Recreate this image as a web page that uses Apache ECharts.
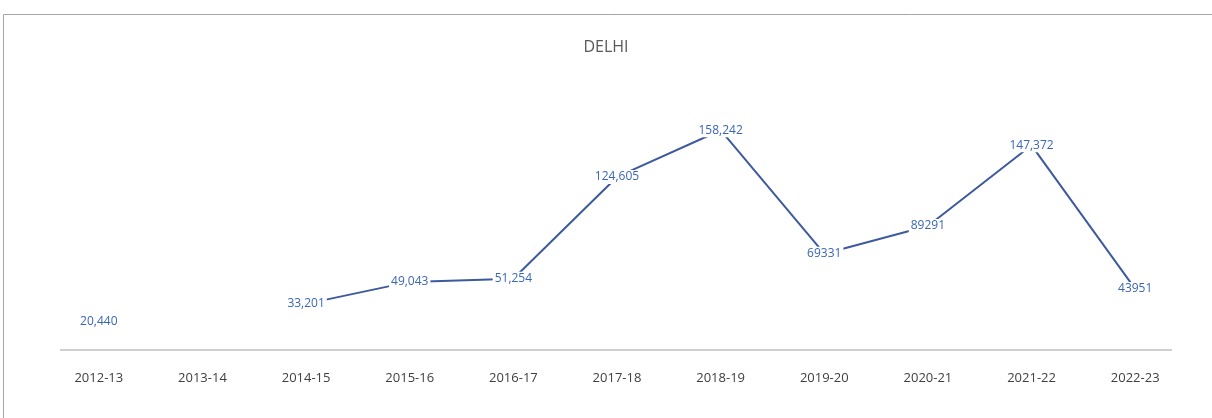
<!DOCTYPE html>
<html><head><meta charset="utf-8">
<script src="https://cdn.jsdelivr.net/npm/echarts@6/dist/echarts.min.js"></script>
<style>html,body{margin:0;padding:0;background:#fff}#c{width:1212px;height:418px}</style>
</head><body><div id="c"></div>
<script>
const categories = ['2012-13','2013-14','2014-15','2015-16','2016-17','2017-18','2018-19','2019-20','2020-21','2021-22','2022-23'];
const values = [20440, null, 33201, 49043, 51254, 124605, 158242, 69331, 89291, 147372, 43951];
const valueLabels = ['20,440', '', '33,201', '49,043', '51,254', '124,605', '158,242', '69331', '89291', '147,372', '43951'];
const chartTitle = 'DELHI';

const chart = echarts.init(document.getElementById('c'));
chart.setOption({
  backgroundColor: '#fff',
  animation: false,
  title: {
    text: chartTitle, left: 'center', top: 34,
    textStyle: { fontFamily: 'Open Sans', fontSize: 16, fontWeight: 'normal', color: '#595959' }
  },
  graphic: [{
    type: 'rect', shape: { x: 3.5, y: 14.5, width: 1230, height: 430 },
    style: { fill: 'none', stroke: '#a6a6a6', lineWidth: 1 }, silent: true
  }, {
    type: 'line', shape: { x1: 60, y1: 350, x2: 1172, y2: 350 },
    style: { stroke: '#d0d0d0', lineWidth: 2 }, silent: true
  }],
  grid: { left: 47, right: 25, top: 100, bottom: 68 },
  xAxis: {
    type: 'category', data: categories, boundaryGap: true,
    axisLine: { show: false },
    axisTick: { show: false },
    axisLabel: { color: '#404040', fontFamily: 'Open Sans', fontSize: 13, margin: 22 }
  },
  yAxis: { type: 'value', min: 0, max: 180000, show: false, splitLine: { show: false } },
  series: [{
    type: 'line',
    data: values,
    connectNulls: false,
    symbol: 'circle', symbolSize: 0.01, showSymbol: true,
    lineStyle: { color: '#3d5a9e', width: 2 },
    itemStyle: { color: '#3d5a9e' },
    label: {
      show: true, position: 'inside',
      formatter: p => valueLabels[p.dataIndex],
      color: '#3a66b8', fontFamily: 'Open Sans', fontSize: 12,
      backgroundColor: '#fff', padding: [1, 2]
    }
  }]
});
</script></body></html>
